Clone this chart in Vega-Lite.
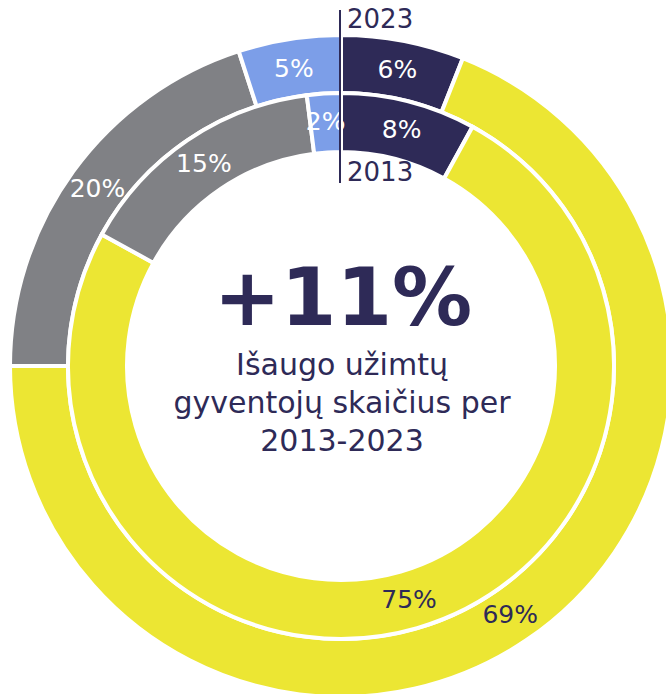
{
  "$schema": "https://vega.github.io/schema/vega-lite/v6.json",
  "autosize": "none",
  "width": 682,
  "height": 732,
  "padding": 0,
  "background": "white",
  "config": {"view": {"stroke": null}, "font": "DejaVu Sans"},
  "datasets": {
    "rings": [
      {"year": "2023", "group": "Kategorija 1", "share": 6, "rank": 1, "label": "6%"},
      {"year": "2023", "group": "Kategorija 2", "share": 69, "rank": 2, "label": "69%"},
      {"year": "2023", "group": "Kategorija 3", "share": 20, "rank": 3, "label": "20%"},
      {"year": "2023", "group": "Kategorija 4", "share": 5, "rank": 4, "label": "5%"},
      {"year": "2013", "group": "Kategorija 1", "share": 8, "rank": 1, "label": "8%"},
      {"year": "2013", "group": "Kategorija 2", "share": 75, "rank": 2, "label": "75%"},
      {"year": "2013", "group": "Kategorija 3", "share": 15, "rank": 3, "label": "15%"},
      {"year": "2013", "group": "Kategorija 4", "share": 2, "rank": 4, "label": "2%"}
    ]
  },
  "layer": [
    {
      "data": {"name": "rings"},
      "transform": [{"filter": "datum.year === '2023'"}],
      "mark": {"type": "arc", "radius": 331, "radius2": 273, "stroke": "white", "strokeWidth": 4},
      "encoding": {
        "theta": {"field": "share", "type": "quantitative", "stack": true, "scale": {"domain": [0, 100]}},
        "order": {"field": "rank", "type": "quantitative"},
        "color": {
          "field": "group", "type": "nominal", "legend": null,
          "scale": {"domain": ["Kategorija 1", "Kategorija 2", "Kategorija 3", "Kategorija 4"],
                    "range": ["#2E2A57", "#ECE633", "#808185", "#7C9EE8"]}
        }
      }
    },
    {
      "data": {"name": "rings"},
      "transform": [{"filter": "datum.year === '2013'"}],
      "mark": {"type": "arc", "radius": 273, "radius2": 214, "stroke": "white", "strokeWidth": 4},
      "encoding": {
        "theta": {"field": "share", "type": "quantitative", "stack": true, "scale": {"domain": [0, 100]}},
        "order": {"field": "rank", "type": "quantitative"},
        "color": {"field": "group", "type": "nominal", "legend": null}
      }
    },
    {
      "data": {"name": "rings"},
      "transform": [{"filter": "datum.year === '2023'"}],
      "mark": {"type": "text", "radius": 301, "fontSize": 25, "align": "center", "baseline": "middle"},
      "encoding": {
        "theta": {"field": "share", "type": "quantitative", "stack": true, "scale": {"domain": [0, 100]}},
        "order": {"field": "rank", "type": "quantitative"},
        "text": {"field": "label"},
        "color": {"condition": {"test": "datum.rank === 2", "value": "#2E2A57"}, "value": "white"}
      }
    },
    {
      "data": {"name": "rings"},
      "transform": [{"filter": "datum.year === '2013'"}],
      "mark": {"type": "text", "radius": 244, "fontSize": 25, "align": "center", "baseline": "middle"},
      "encoding": {
        "theta": {"field": "share", "type": "quantitative", "stack": true, "scale": {"domain": [0, 100]}},
        "order": {"field": "rank", "type": "quantitative"},
        "text": {"field": "label"},
        "color": {"condition": {"test": "datum.rank === 2", "value": "#2E2A57"}, "value": "white"}
      }
    },
    {
      "data": {"values": [{}]},
      "mark": {"type": "rule", "color": "#2E2A57", "strokeWidth": 2},
      "encoding": {
        "x": {"datum": -1, "type": "quantitative", "scale": {"domain": [-341, 341], "nice": false}, "axis": null},
        "y": {"datum": 356, "type": "quantitative", "scale": {"domain": [-366, 366], "nice": false}, "axis": null},
        "y2": {"datum": 183}
      }
    },
    {
      "data": {"values": [{}]},
      "mark": {"type": "text", "color": "#2E2A57", "fontSize": 26, "align": "left", "baseline": "alphabetic", "text": "2023"},
      "encoding": {
        "x": {"datum": 6, "type": "quantitative", "scale": {"domain": [-341, 341], "nice": false}, "axis": null},
        "y": {"datum": 338, "type": "quantitative", "scale": {"domain": [-366, 366], "nice": false}, "axis": null}
      }
    },
    {
      "data": {"values": [{}]},
      "mark": {"type": "text", "color": "#2E2A57", "fontSize": 26, "align": "left", "baseline": "alphabetic", "text": "2013"},
      "encoding": {
        "x": {"datum": 6, "type": "quantitative", "scale": {"domain": [-341, 341], "nice": false}, "axis": null},
        "y": {"datum": 185, "type": "quantitative", "scale": {"domain": [-366, 366], "nice": false}, "axis": null}
      }
    },
    {
      "data": {"values": [{}]},
      "mark": {"type": "text", "color": "#2E2A57", "fontSize": 80, "fontWeight": "bold", "align": "center", "baseline": "alphabetic", "text": "+11%"},
      "encoding": {
        "x": {"datum": 2, "type": "quantitative", "scale": {"domain": [-341, 341], "nice": false}, "axis": null},
        "y": {"datum": 41, "type": "quantitative", "scale": {"domain": [-366, 366], "nice": false}, "axis": null}
      }
    },
    {
      "data": {"values": [{}]},
      "mark": {"type": "text", "color": "#2E2A57", "fontSize": 30, "align": "center", "baseline": "alphabetic", "lineHeight": 38,
               "text": ["Išaugo užimtų", "gyventojų skaičius per", "2013-2023"]},
      "encoding": {
        "x": {"datum": 1, "type": "quantitative", "scale": {"domain": [-341, 341], "nice": false}, "axis": null},
        "y": {"datum": -9, "type": "quantitative", "scale": {"domain": [-366, 366], "nice": false}, "axis": null}
      }
    }
  ]
}
